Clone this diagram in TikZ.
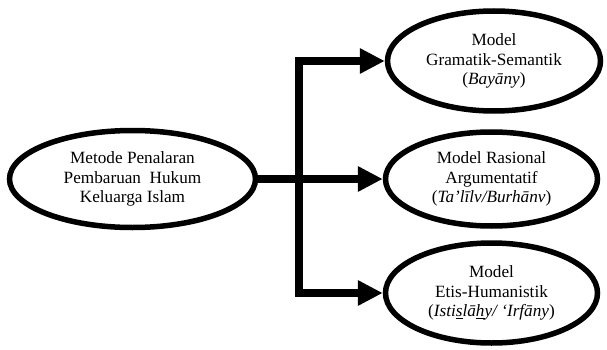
\documentclass[tikz,border=0pt]{standalone}
\usepackage{fontspec}
\setmainfont{Liberation Serif}
\usetikzlibrary{arrows.meta,shapes.geometric}
\begin{document}
\begin{tikzpicture}[x=1pt,y=-1pt,
  oval/.style={ellipse,draw,line width=5.5pt,inner sep=0pt,align=center,
    font=\fontsize{17.2}{19.6}\selectfont},
  conn/.style={line width=7.5pt,-{Triangle[length=25pt,width=24pt]}}]
\useasboundingbox (0,0) rectangle (607,350);
\node[oval,minimum width=246pt,minimum height=97pt] (src) at (132.5,179)
  {Metode Penalaran\\Pembaruan\ \ Hukum\\Keluarga Islam};
\node[oval,minimum width=213pt,minimum height=100pt] (top) at (494,61)
  {Model\\Gramatik-Semantik\\(\textit{Bayāny})};
\node[oval,minimum width=212pt,minimum height=94pt] (mid) at (491.5,179)
  {Model Rasional\\Argumentatif\\(\textit{Ta’līlv/Burhānv})};
\node[oval,minimum width=212pt,minimum height=100pt] (bot) at (491.5,293)
  {Model\\Etis-Humanistik\\(\textit{Isti\underline{s}lā\underline{h}y/ ‘Irfāny})};
\coordinate (j) at (299,179);
\draw[conn] (src.east) -- (mid.west);
\draw[conn] (j) |- (top.west);
\draw[conn] (j) |- (bot.west);
\end{tikzpicture}
\end{document}
